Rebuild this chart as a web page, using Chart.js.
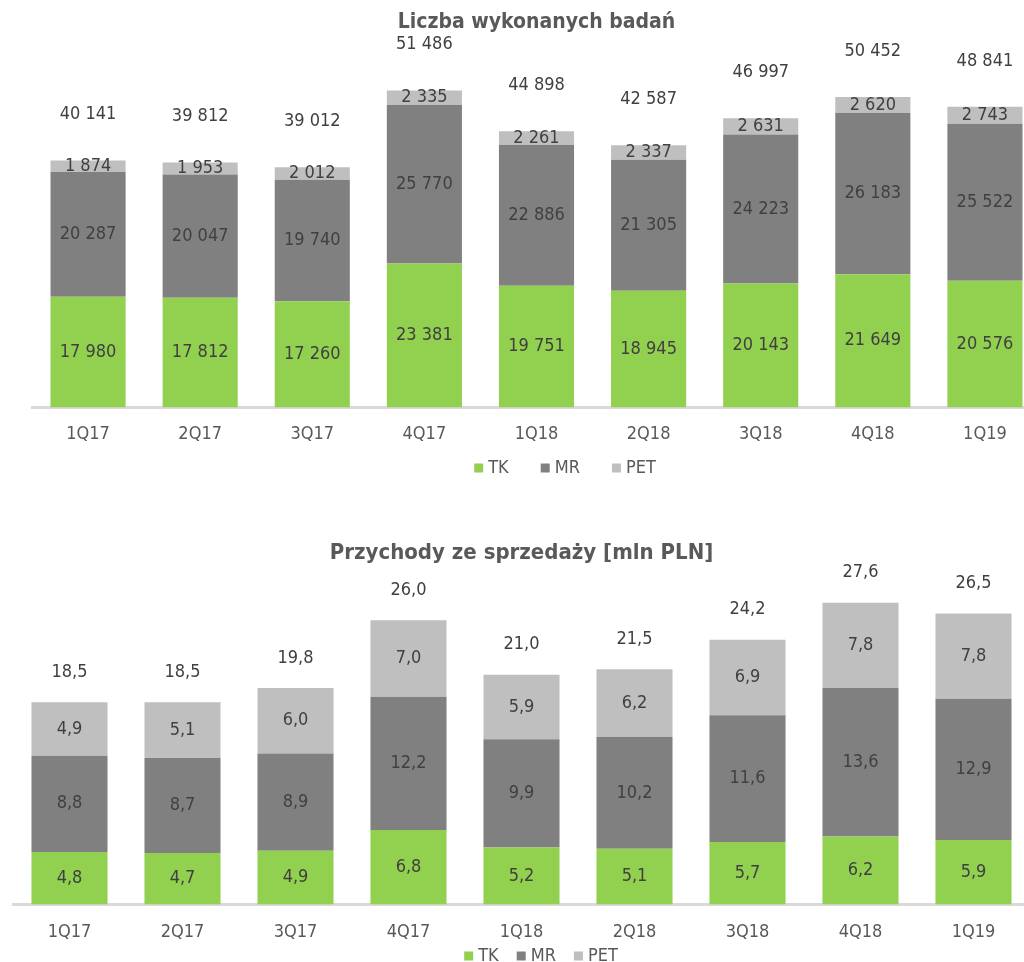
<!DOCTYPE html>
<html>
<head>
<meta charset="utf-8">
<script src="https://cdn.jsdelivr.net/npm/chart.js@4"></script>
<style>
  html, body { margin: 0; padding: 0; background: #fff; overflow: hidden; width: 1024px; height: 962px; }
  #wrapCount { position: absolute; left: 0; top: 0; width: 1041px; height: 495px; }
  #wrapRevenue { position: absolute; left: 0; top: 495px; width: 1061px; height: 467px; }
</style>
</head>
<body>
<div id="wrapCount"><canvas id="chartCount"></canvas></div>
<div id="wrapRevenue"><canvas id="chartRevenue"></canvas></div>
<script>
var quarters = ["1Q17", "2Q17", "3Q17", "4Q17", "1Q18", "2Q18", "3Q18", "4Q18", "1Q19"];

// Liczba wykonanych badań
var countTK = [17980, 17812, 17260, 23381, 19751, 18945, 20143, 21649, 20576];
var countMR = [20287, 20047, 19740, 25770, 22886, 21305, 24223, 26183, 25522];
var countPET = [1874, 1953, 2012, 2335, 2261, 2337, 2631, 2620, 2743];
var countTotal = [40141, 39812, 39012, 51486, 44898, 42587, 46997, 50452, 48841];

// Przychody ze sprzedaży [mln PLN]
var revTK = [4.8, 4.7, 4.9, 6.8, 5.2, 5.1, 5.7, 6.2, 5.9];
var revMR = [8.8, 8.7, 8.9, 12.2, 9.9, 10.2, 11.6, 13.6, 12.9];
var revPET = [4.9, 5.1, 6.0, 7.0, 5.9, 6.2, 6.9, 7.8, 7.8];
var revTotal = [18.5, 18.5, 19.8, 26.0, 21.0, 21.5, 24.2, 27.6, 26.5];

var seriesNames = ["TK", "MR", "PET"];
var colors = ["#92d050", "#808080", "#bfbfbf"];
var FONT = "'DejaVu Sans Condensed', 'DejaVu Sans', sans-serif";

function fmtThousands(v) {
  return String(v).replace(/\B(?=(\d{3})+(?!\d))/g, " ");
}
function fmtDecimal(v) {
  return v.toFixed(1).replace(".", ",");
}

// value labels in segments + totals above stacks
function makeLabels(totals, format, size, offset) {
  return {
    id: "barLabels",
    afterDatasetsDraw: function (chart) {
      var ctx = chart.ctx;
      ctx.save();
      ctx.font = size + "px " + FONT;
      ctx.fillStyle = "#404040";
      ctx.textAlign = "center";
      ctx.textBaseline = "middle";
      chart.data.datasets.forEach(function (ds, i) {
        chart.getDatasetMeta(i).data.forEach(function (bar, j) {
          ctx.fillText(format(ds.data[j]), bar.x, (bar.y + bar.base) / 2);
        });
      });
      var last = chart.getDatasetMeta(chart.data.datasets.length - 1);
      last.data.forEach(function (bar, j) {
        ctx.fillText(format(totals[j]), bar.x, bar.y - offset);
      });
      ctx.restore();
    }
  };
}

// simple legend drawn under the axis
function makeLegend(cx, cy, size, spacing) {
  return {
    id: "smallLegend",
    afterDraw: function (chart) {
      var ctx = chart.ctx;
      ctx.save();
      ctx.font = size + "px " + FONT;
      ctx.textBaseline = "middle";
      var box = 9, gap = 5;
      var widths = seriesNames.map(function (n) { return box + gap + ctx.measureText(n).width; });
      var total = widths.reduce(function (a, b) { return a + b; }, 0) + spacing * (widths.length - 1);
      var x = cx - total / 2;
      seriesNames.forEach(function (n, i) {
        ctx.fillStyle = colors[i];
        ctx.fillRect(x, cy - box / 2, box, box);
        ctx.fillStyle = "#595959";
        ctx.fillText(n, x + box + gap, cy);
        x += widths[i] + spacing;
      });
      ctx.restore();
    }
  };
}

function buildDatasets(a, b, c, pct) {
  return [a, b, c].map(function (d, i) {
    return {
      label: seriesNames[i],
      data: d,
      backgroundColor: colors[i],
      borderWidth: 0,
      categoryPercentage: 1,
      barPercentage: pct
    };
  });
}

function baseOptions(title, titleSize, max, pad, titlePad, tickPad) {
  return {
    responsive: true,
    maintainAspectRatio: false,
    animation: false,
    layout: { padding: pad },
    plugins: {
      legend: { display: false },
      tooltip: { enabled: false },
      title: {
        display: true,
        text: title,
        color: "#595959",
        font: { family: FONT, size: titleSize, weight: "bold" },
        padding: titlePad
      }
    },
    scales: {
      x: {
        stacked: true,
        grid: { display: false, drawTicks: false },
        border: { display: true, color: "#d9d9d9", width: 3 },
        ticks: { color: "#595959", font: { family: FONT, size: 18 }, padding: tickPad }
      },
      y: { stacked: true, display: false, min: 0, max: max }
    }
  };
}

new Chart(document.getElementById("chartCount"), {
  type: "bar",
  data: { labels: quarters, datasets: buildDatasets(countTK, countMR, countPET, 0.67) },
  options: baseOptions("Liczba wykonanych badań", 21, 60000,
    { left: 32, right: 0, top: 0, bottom: 34 }, { top: 10, bottom: 3 }, 16),
  plugins: [makeLabels(countTotal, fmtThousands, 18, 46), makeLegend(565, 468, 18, 32)]
});

new Chart(document.getElementById("chartRevenue"), {
  type: "bar",
  data: { labels: quarters, datasets: buildDatasets(revTK, revMR, revPET, 0.673) },
  options: baseOptions("Przychody ze sprzedaży [mln PLN]", 22, 30,
    { left: 13, right: 31, top: 0, bottom: 2 }, { top: 45, bottom: 10 }, 17),
  plugins: [makeLabels(revTotal, fmtDecimal, 18, 30), makeLegend(541, 461, 18, 18)]
});
</script>
</body>
</html>
